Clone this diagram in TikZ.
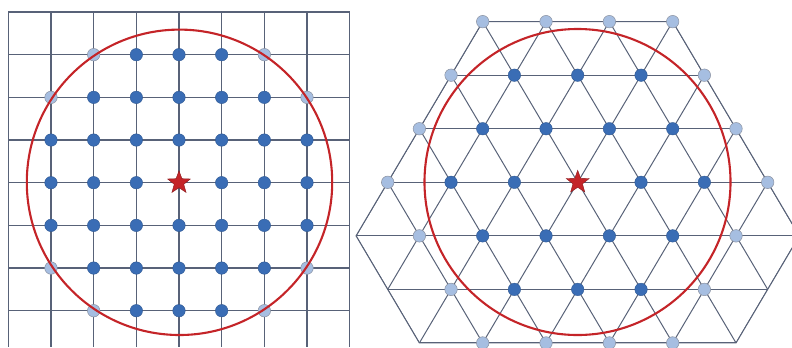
\documentclass[tikz,border=0pt]{standalone}
\usetikzlibrary{shapes.geometric}
\definecolor{gridslate}{RGB}{88,98,120}
\definecolor{dotblue}{RGB}{58,109,181}
\definecolor{dotlight}{RGB}{166,190,225}
\definecolor{ringred}{RGB}{196,36,40}
\begin{document}
\begin{tikzpicture}[x=1bp, y=-1bp,
  sqline/.style={draw=gridslate, line width=1.5bp},
  triline/.style={draw=gridslate, line width=1bp},
  inner/.style={circle, fill=dotblue, draw=dotblue!80!black, line width=0.4bp, minimum size=12.5bp, inner sep=0pt},
  outer/.style={circle, fill=dotlight, draw=gridslate!70, line width=0.5bp, minimum size=12.5bp, inner sep=0pt},
  origin/.style={star, star points=5, star point ratio=2.4, fill=ringred, draw=ringred!70!black, line width=0.4bp, minimum size=24bp, inner sep=0pt},
  ring/.style={draw=ringred, line width=2.1bp}
]
  \useasboundingbox (0,0) rectangle (792,347);

  % square lattice
  \begin{scope}[shift={(179,182.7)}, x=42.67bp, y=-42.67bp]
    \foreach \i in {-4,...,4}
      \draw[sqline] (\i,-4) -- (\i,3.86);
    \foreach \j in {-4,...,3}
      \draw[sqline] (-4,\j) -- (4,\j);
    \foreach \i in {-3,...,3}
      \foreach \j in {-3,...,3} {
        \pgfmathtruncatemacro{\nsq}{\i*\i+\j*\j}
        \ifnum\nsq=0 \else
          \ifnum\nsq<11 \node[inner] (sq-\i-\j) at (\i,\j) {};
          \else\ifnum\nsq=13 \node[outer] (sq-\i-\j) at (\i,\j) {};\fi\fi
        \fi
      }
    \node[origin] (sq-star) at (0,0) {};
  \end{scope}
  \draw[ring] (179.5,182.3) circle[radius=152.7bp];

  % triangular lattice
  \begin{scope}[shift={(577.7,182.3)}, x=63.33bp, y=-53.55bp]
    \begin{scope}
      \clip (-1.5,-3) -- (1.5,-3) -- (3.5,1) -- (2.5,3) -- (-2.5,3) -- (-3.5,1) -- cycle;
      \foreach \r in {-3,...,3}
        \draw[triline] (-5,\r) -- (5,\r);
      \foreach \k in {-7,...,7} {
        \draw[triline] (\k-1.5,-3) -- (\k+1.5,3);
        \draw[triline] (\k+1.5,-3) -- (\k-1.5,3);
      }
    \end{scope}
    \draw[triline] (-1.5,-3) -- (1.5,-3) -- (3.5,1) -- (2.5,3) -- (-2.5,3) -- (-3.5,1) -- cycle;
    \foreach \r in {-3,...,3}
      \foreach \k in {-5,...,5} {
        \pgfmathsetmacro{\px}{\k+\r/2}
        \pgfmathtruncatemacro{\dsq}{round(4*(\px*\px+0.75*\r*\r))}
        \ifnum\dsq=0 \else
          \ifnum\dsq<17 \node[inner] (tri-\k-\r) at (\px,\r) {};
          \else\ifnum\dsq<37 \node[outer] (tri-\k-\r) at (\px,\r) {};\fi\fi
        \fi
      }
    \node[origin] (tri-star) at (0,0) {};
  \end{scope}
  \draw[ring] (577.5,182) circle[radius=153bp];
\end{tikzpicture}
\end{document}
